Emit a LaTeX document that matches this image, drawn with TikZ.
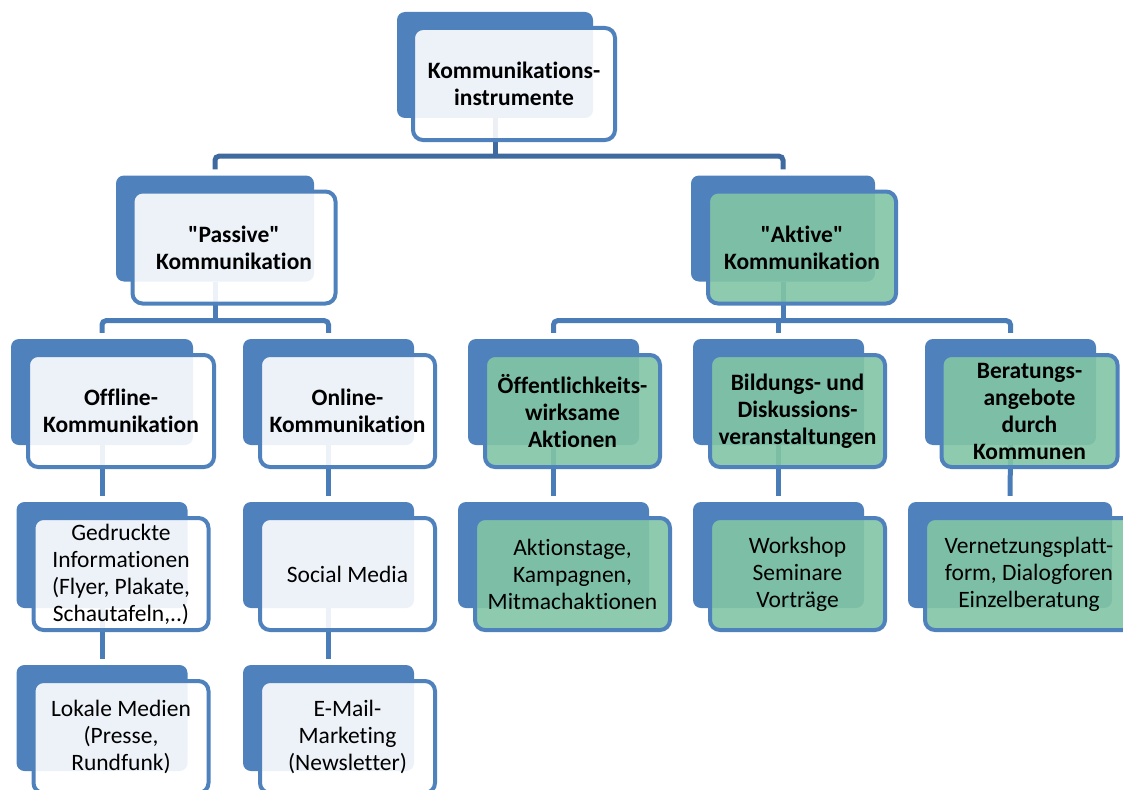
\documentclass[tikz,border=0pt]{standalone}
\usepackage{fontspec}
\setmainfont{Carlito}[Ligatures={TeXOff,NoCommon}]
\usepackage{tikz}
\usepackage{xcolor}
\usetikzlibrary{backgrounds}
\definecolor{smartblue}{HTML}{4F81BD}
\definecolor{linkdark}{HTML}{3E6AA0}
\definecolor{linkblue}{HTML}{4A7CB8}
\definecolor{palefill}{HTML}{FFFFFF}
\definecolor{greenfill}{HTML}{82C5A5}
\tikzset{
  backcard/.style={fill=smartblue,rounded corners=8pt,minimum height=106pt,
                   inner sep=0pt},
  frontcard/.style={draw=smartblue,line width=4pt,fill=palefill,
                    fill opacity=0.9,text opacity=1,rounded corners=10pt,
                    minimum height=112pt,align=center,inner sep=2pt,
                    xshift=19pt,yshift=-19pt,
                    font=\fontsize{23.5}{27}\selectfont},
  greencard/.style={frontcard,fill=greenfill},
  headcard/.style={font=\fontsize{23.5}{27}\selectfont\bfseries},
  toplink/.style={draw=linkdark,line width=5pt,rounded corners=4pt},
  link/.style={draw=linkblue,line width=5pt,rounded corners=4pt},
  gap/.style={shorten <=6pt,shorten >=6pt}
}

\begin{document}
\begin{tikzpicture}[x=1pt,y=-1pt]
    \clip (0,0) rectangle (1123,789);

    % level 1
    \node[backcard,minimum width=196pt] (top-b) at (495,65) {};
    \node[frontcard,headcard,minimum width=202pt] (top) at (top-b)
      {Kommunikations-\\instrumente};

    % level 2
    \node[backcard,minimum width=198pt] (pas-b) at (215,228.5) {};
    \node[frontcard,headcard,minimum width=203pt] (pas) at (pas-b)
      {"Passive"\\Kommunikation};
    \node[backcard,minimum width=184pt] (akt-b) at (783,228.5) {};
    \node[greencard,headcard,minimum width=188pt] (akt) at (akt-b)
      {"Aktive"\\Kommunikation};

    % level 3
    \node[backcard,minimum width=182pt] (off-b) at (102,392) {};
    \node[frontcard,headcard,minimum width=186pt] (off) at (off-b)
      {Offline-\\Kommunikation};
    \node[backcard,minimum width=171pt] (onl-b) at (328.5,392) {};
    \node[frontcard,headcard,minimum width=175pt] (onl) at (onl-b)
      {Online-\\Kommunikation};
    \node[backcard,minimum width=171pt] (oef-b) at (553.5,392) {};
    \node[greencard,headcard,minimum width=175pt] (oef) at (oef-b)
      {Öffentlichkeits-\\wirksame\\Aktionen};
    \node[backcard,minimum width=171pt] (bil-b) at (778.5,392) {};
    \node[greencard,headcard,minimum width=175pt] (bil) at (bil-b)
      {Bildungs- und\\Diskussions-\\veranstaltungen};
    \node[backcard,minimum width=171pt] (ber-b) at (1010.5,392) {};
    \node[greencard,headcard,minimum width=176pt] (ber) at (ber-b)
      {Beratungs-\\angebote\\durch\\Kommunen};

    % level 4
    \node[backcard,minimum width=171pt] (ged-b) at (102,555) {};
    \node[frontcard,minimum width=175pt] (ged) at (ged-b)
      {Gedruckte\\Informationen\\(Flyer, Plakate,\\Schautafeln,..)};
    \node[backcard,minimum width=171pt] (soc-b) at (328.5,555) {};
    \node[frontcard,minimum width=175pt] (soc) at (soc-b) {Social Media};
    \node[backcard,minimum width=191pt] (akn-b) at (553.5,555) {};
    \node[greencard,minimum width=195pt] (akn) at (akn-b)
      {Aktionstage,\\Kampagnen,\\Mitmachaktionen};
    \node[backcard,minimum width=171pt] (wor-b) at (778.5,555) {};
    \node[greencard,minimum width=175pt] (wor) at (wor-b)
      {Workshop\\Seminare\\Vorträge};
    \node[backcard,minimum width=204pt] (ver-b) at (1010,555) {};
    \node[greencard,minimum width=208pt] (ver) at (ver-b)
      {Vernetzungsplatt-\\form, Dialogforen\\Einzelberatung};

    % level 5
    \node[backcard,minimum width=171pt] (lok-b) at (102,718) {};
    \node[frontcard,minimum width=175pt] (lok) at (lok-b)
      {Lokale Medien\\(Presse,\\Rundfunk)};
    \node[backcard,minimum width=171pt] (mai-b) at (328.5,718) {};
    \node[frontcard,minimum width=175pt] (mai) at (mai-b)
      {E-Mail-\\Marketing\\(Newsletter)};

    \begin{scope}[on background layer]
      \coordinate (bar0) at ([yshift=-38pt]top-b.south);
      \coordinate (bar1) at ([yshift=-39pt]pas-b.south);
      \coordinate (bar2) at ([yshift=-39pt]akt-b.south);
      \draw[toplink] (top-b.south) -- (bar0);
      \draw[toplink,gap] (pas-b.north) |- (bar0) -| (akt-b.north);
      \draw[link] (pas-b.south) -- (bar1);
      \draw[link,gap] (off-b.north) |- (bar1) -| (onl-b.north);
      \draw[link] (akt-b.south) -- (bar2);
      \draw[link,gap] (oef-b.north) |- (bar2) -| (ber-b.north);
      \draw[link,shorten >=6pt] (bar2 -| bil-b.north) -- (bil-b.north);
      \foreach \up/\down in {off/ged,onl/soc,oef/akn,bil/wor,ber/ver,
                             ged/lok,soc/mai}{
        \draw[link,shorten >=6pt] (\up-b.south) -- (\down-b.north);
      }
    \end{scope}
  \end{tikzpicture}
\end{document}
